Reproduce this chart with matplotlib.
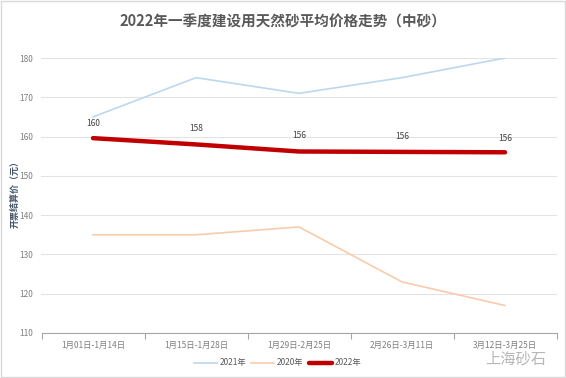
import matplotlib
matplotlib.use("Agg")
import matplotlib.pyplot as plt
from matplotlib.patches import Rectangle

plt.rcParams['font.family'] = ['Noto Sans CJK SC', 'DejaVu Sans']

categories = ["1月01日-1月14日", "1月15日-1月28日", "1月29日-2月25日", "2月26日-3月11日", "3月12日-3月25日"]
y2021 = [165, 175, 171, 175, 180]
y2020 = [135, 135, 137, 123, 117]
y2022 = [159.6, 158.0, 156.2, 156.1, 156.0]
labels2022 = ["160", "158", "156", "156", "156"]
yticks = [110, 120, 130, 140, 150, 160, 170, 180]

fig = plt.figure(figsize=(5.66, 3.78), dpi=100)
fig.patches.append(Rectangle((0.002, 0.003), 0.996, 0.994, transform=fig.transFigure,
                             fill=False, edgecolor="#d9d9d9", linewidth=1.0))
ax = fig.add_axes([41.5/566, 1-333/378, (556.5-41.5)/566, (333-58)/378])

x = list(range(len(categories)))
ax.plot(x, y2021, color="#bdd7ee", lw=1.2, label="2021年")
ax.plot(x, y2020, color="#f8cbad", lw=1.2, label="2020年")
ax.plot(x, y2022, color="#c00000", lw=3.2, label="2022年", solid_capstyle="round")

offsets = [7, 8, 8, 8, 7]
for xi, yi, lb, off in zip(x, y2022, labels2022, offsets):
    ax.annotate(lb, (xi, yi), xytext=(0, off), textcoords="offset points",
                ha="center", va="bottom", fontsize=6, color="#404040")

ax.set_xlim(-0.5, len(categories) - 0.5)
ax.set_ylim(110, 180)
ax.set_yticks(yticks)
ax.set_yticklabels([str(v) for v in yticks], fontsize=6, color="#7f7f7f")
ax.set_xticks(x)
ax.set_xticklabels(categories, fontsize=6, color="#7f7f7f")
ax.tick_params(axis="x", length=0, pad=6)
ax.tick_params(axis="y", length=0, pad=6)
ax.set_xticks([i + 0.5 for i in range(-1, len(categories))], minor=True)
ax.tick_params(axis="x", which="minor", length=4, color="#a6a6a6", width=0.8)
ax.grid(axis="y", color="#e3e3e3", lw=0.8)
ax.set_axisbelow(True)
for s in ["top", "right", "left"]:
    ax.spines[s].set_visible(False)
ax.spines["bottom"].set_color("#a6a6a6")
ax.spines["bottom"].set_linewidth(0.8)

fig.text(15/566, 1 - 192/378, "开票结算价（元）", rotation=90, ha="center", va="center",
         fontsize=6.5, color="#44546a", fontweight="bold")

fig.text(0.5, 1 - 22/378, "2022年一季度建设用天然砂平均价格走势（中砂）", ha="center", va="center",
         fontsize=10.5, fontweight="bold", color="#595959")

leg = fig.legend(loc="center", bbox_to_anchor=(0.49, 1 - 363/378), ncol=3, frameon=False,
                 fontsize=6, handlelength=2.8, columnspacing=0.6, handletextpad=0.3)
for t in leg.get_texts():
    t.set_color("#595959")

fig.text(0.965, 1 - 359/378, "上海砂石", ha="right", va="center", fontsize=11,
         color="#b0b0b0", alpha=0.9)

fig.savefig("out.png", dpi=100)
